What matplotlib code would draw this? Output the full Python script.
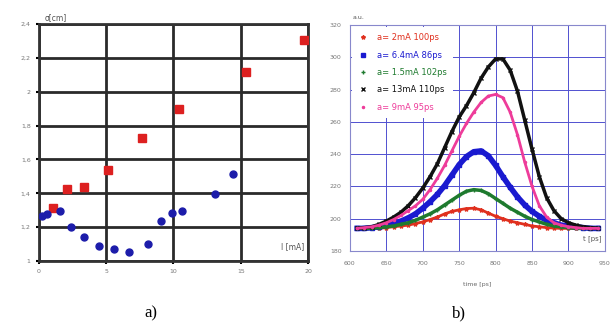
import matplotlib.pyplot as plt

# panel a): sigma vs current
red_i = [1.05, 2.07, 3.31, 5.1, 7.66, 10.4, 15.4, 19.7]
red_sigma = [1.313, 1.424, 1.439, 1.538, 1.725, 1.896, 2.118, 2.305]
blue_i = [0.2, 0.57, 1.57, 2.39, 3.36, 4.43, 5.6, 6.66, 8.08, 9.1, 9.9, 10.65, 13.1, 14.4]
blue_sigma = [1.266, 1.276, 1.295, 1.203, 1.14, 1.089, 1.069, 1.051, 1.1,
              1.238, 1.282, 1.295, 1.396, 1.512]
a_yticks = [1, 1.2, 1.4, 1.6, 1.8, 2, 2.2, 2.4]
a_ylabels = ["1", "1,2", "1,4", "1,6", "1,8", "2", "2,2", "2,4"]
a_xticks = [0, 5, 10, 15, 20]

# panel b): bunch profiles
time_ps = [610, 620, 630, 640, 650, 660, 670, 680, 690, 700, 710, 720, 730, 740,
           750, 760, 770, 780, 790, 800, 810, 820, 830, 840, 850, 860, 870, 880,
           890, 900, 910, 920, 930, 940]
red_prof = [194, 194, 194, 194, 194.5, 195, 195.5, 196, 197, 198, 199.5, 201, 203,
            204.5, 205.5, 206.3, 206.5, 205.5, 203.5, 201.5, 200, 198.5, 197.5,
            196.5, 195.5, 195, 194.5, 194.2, 194, 194, 194, 194, 194, 194]
blue_prof = [194, 194, 194.5, 195, 196, 197, 198.5, 200.5, 203, 206.5, 210.5, 215,
             220.5, 227, 233.5, 238.5, 241.5, 242, 239, 233, 226, 219.5, 213.5,
             208.5, 204.5, 201.5, 199, 197.5, 196, 195.5, 195, 194.5, 194, 194]
green_prof = [194, 194, 194, 194.5, 195, 195.5, 196.5, 197.5, 199, 201, 203, 205.5,
              208.5, 211.5, 214.5, 217, 218, 217.5, 215.5, 212.5, 209.5, 206.5,
              204, 201.5, 199.5, 198, 196.5, 195.5, 195, 194.5, 194, 194, 194, 194]
black_prof = [194, 194.5, 195, 196.5, 198.5, 201, 204, 208, 213, 219, 226, 234,
              244, 254, 263, 270, 278, 287, 294, 299, 299, 292, 279, 261, 243,
              226, 213, 205, 200, 197.5, 196, 195, 194.5, 194]
pink_prof = [194, 194.5, 195, 196, 197.5, 199.5, 202, 205, 208, 212, 218, 225, 233,
             242, 251, 259, 266, 272, 276, 277, 275, 266, 252, 235, 220, 208, 201,
             197.5, 196, 195, 194.5, 194, 194, 194]
profile_labels = ["a= 2mA 100ps", "a= 6.4mA 86ps", "a= 1.5mA 102ps",
                  "a= 13mA 110ps", "a= 9mA 95ps"]
b_xticks = [600, 650, 700, 750, 800, 850, 900, 950]
b_yticks = [180, 200, 220, 240, 260, 280, 300, 320]

fig = plt.figure(figsize=(6.16, 3.32), dpi=100)

# ---- panel a ----
ax1 = fig.add_axes([0.0633, 0.2139, 0.4367, 0.7138])
ax1.plot(red_i, red_sigma, "s", color="#dd2020", markersize=6, zorder=3)
ax1.plot(blue_i, blue_sigma, "o", color="#1c1caa", markersize=5, zorder=3)
ax1.set_xlim(0, 20)
ax1.set_ylim(1, 2.4)
ax1.set_xticks(a_xticks)
ax1.set_yticks(a_yticks)
ax1.set_yticklabels(a_ylabels)
ax1.grid(True, color="#2a2a2a", linewidth=2)
for s in ax1.spines.values():
    s.set_linewidth(2)
    s.set_color("#333333")
ax1.tick_params(labelsize=4.5, labelcolor="#777777", length=2, width=1.5, pad=4)
ax1.text(0.02, 1.01, "σ[cm]", transform=ax1.transAxes, fontsize=5.5,
         color="#555555", va="bottom")
ax1.text(0.985, 0.04, "I [mA]", transform=ax1.transAxes, fontsize=5.5,
         color="#555555", ha="right", va="bottom",
         bbox=dict(facecolor="white", edgecolor="none", pad=1))

# ---- panel b ----
ax2 = fig.add_axes([0.568, 0.244, 0.414, 0.6807])
colors = ["#e0301e", "#1a1ad0", "#1e7a2e", "#111111", "#ee3c9a"]
profiles = [red_prof, blue_prof, green_prof, black_prof, pink_prof]
markers = ["*", "s", "+", "x", "."]
widths = [2, 4, 2.5, 2.5, 2]
for prof, c, m, w, lab in zip(profiles, colors, markers, widths, profile_labels):
    ax2.plot(time_ps, prof, color=c, linewidth=w, marker=m, markersize=3,
             label=lab, zorder=3)
ax2.set_xlim(600, 950)
ax2.set_ylim(180, 320)
ax2.set_xticks(b_xticks)
ax2.set_yticks(b_yticks)
ax2.grid(True, color="#5050d0", linewidth=0.7)
for s in ax2.spines.values():
    s.set_color("#8888cc")
    s.set_linewidth(0.8)
ax2.tick_params(labelsize=4.5, labelcolor="#777777", length=0, pad=7)
ax2.tick_params(axis="y", pad=6)
ax2.set_xlabel("time [ps]", fontsize=4.5, color="#666666", labelpad=12)
ax2.text(0.01, 1.02, "a.u.", transform=ax2.transAxes, fontsize=4.5,
         color="#555555", va="bottom")
ax2.text(0.985, 0.04, "t [ps]", transform=ax2.transAxes, fontsize=5,
         color="#555555", ha="right", va="bottom",
         bbox=dict(facecolor="white", edgecolor="none", pad=1), zorder=5)
leg = ax2.legend(loc="upper left", fontsize=6, frameon=True, framealpha=1,
                 facecolor="white", edgecolor="none", handlelength=1.2,
                 handletextpad=1.0, labelspacing=1.0, borderpad=0.8,
                 borderaxespad=0.2, markerscale=1)
for line in leg.get_lines():
    line.set_linewidth(0)
for txt, c in zip(leg.get_texts(), colors):
    txt.set_color(c)

# captions
fig.text(0.245, 0.045, "a)", fontsize=12, family="Liberation Serif", ha="center")
fig.text(0.745, 0.045, "b)", fontsize=12, family="Liberation Serif", ha="center")

fig.savefig("out.png", dpi=100)
